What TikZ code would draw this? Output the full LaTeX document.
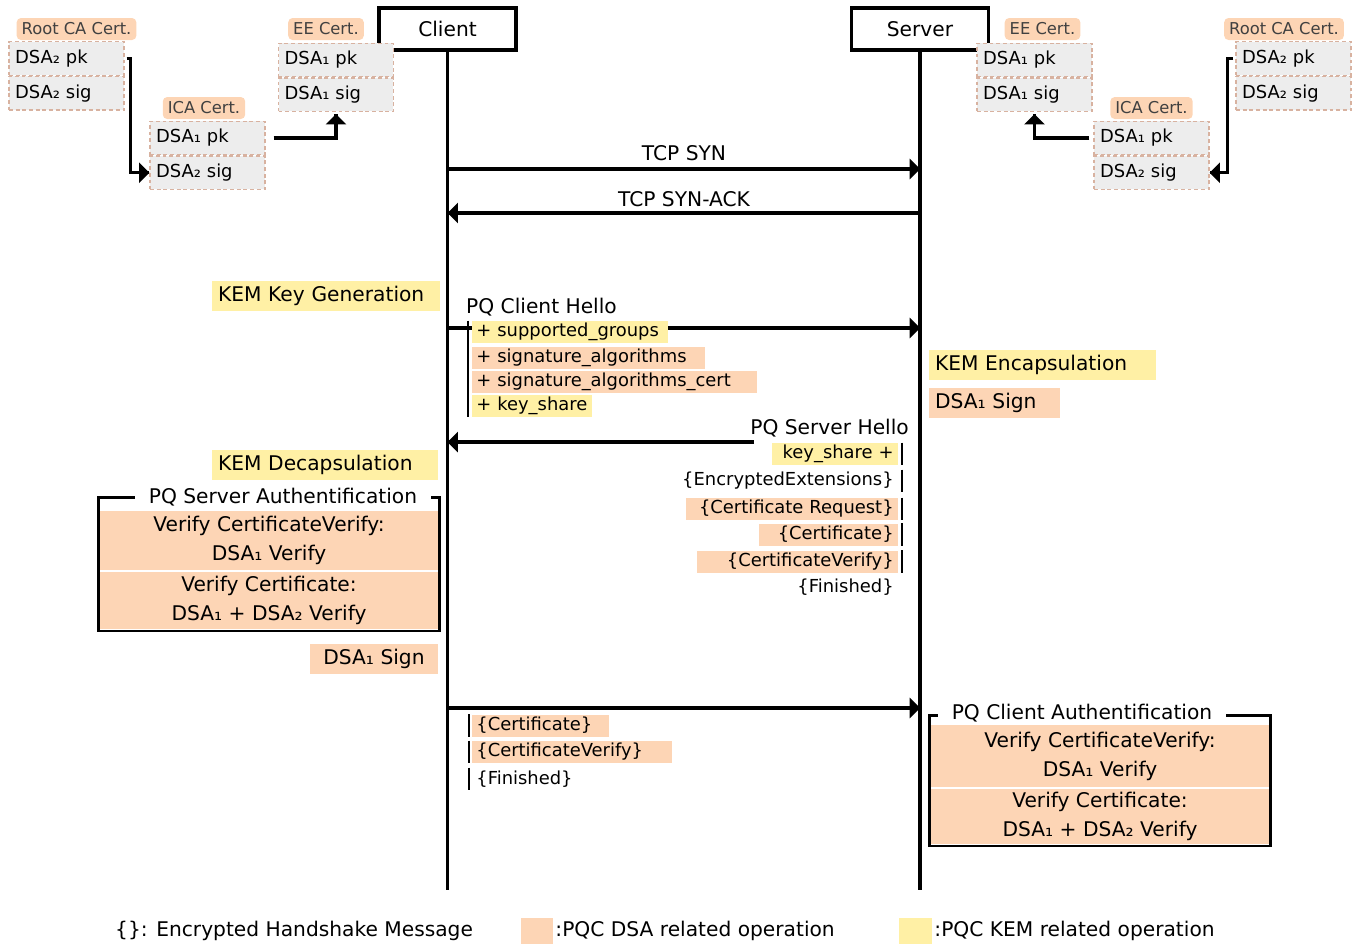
\documentclass[tikz,border=0pt]{standalone}
\usepackage{fontspec}
\setmainfont{DejaVu Sans}
\usetikzlibrary{arrows}
\usetikzlibrary{decorations.markings}
\usetikzlibrary{positioning}
\definecolor{dsa}{HTML}{FDD5B5}
\definecolor{kem}{HTML}{FFF0A5}
\definecolor{cellgray}{HTML}{EDEDED}
\definecolor{celledge}{HTML}{D8B2A0}
\tikzset{->/.style = {decoration={markings,
                                  mark=at position 1 with {\arrow[scale=0.75]{triangle 90}}},
                      postaction={decorate}}}
\tikzset{party/.style = {draw, line width=1.9pt, minimum width=2.74cm, minimum height=0.84cm}}
\tikzset{life/.style = {line width=1.8pt}}
\tikzset{bar/.style = {line width=1.6pt}}
\tikzset{op/.style = {inner xsep=0.12cm, inner ysep=0, minimum height=0.6cm, align=left}}
\tikzset{field/.style = {font=\fontsize{10.2}{12}\selectfont, inner xsep=0.08cm, inner ysep=0, minimum height=0.44cm}}
\tikzset{cell/.style = {draw=celledge, line width=0.7pt, dash pattern=on 2.2pt off 1.6pt, fill=cellgray,
                        font=\fontsize{10.2}{12}\selectfont, minimum height=0.67cm,
                        text width=2.06cm, inner xsep=0.12cm, align=left}}
\tikzset{certlabel/.style = {fill=dsa, rounded corners=2.5pt, text=black!75, font=\fontsize{9.3}{10}\selectfont,
                             minimum height=0.44cm, inner xsep=0.1cm, inner ysep=0}}
\tikzset{authframe/.style = {draw, line width=1.7pt, minimum width=6.84cm}}
\tikzset{authpart/.style = {fill=dsa, minimum width=6.76cm, inner ysep=0, align=center,
                            font=\fontsize{11.5}{16.5}\selectfont}}
\tikzset{authtitle/.style = {fill=white, inner xsep=0.28cm, inner ysep=1pt}}

\begin{document}
\begin{tikzpicture}[x=0.02cm, y=-0.02cm, font=\fontsize{11.5}{14}\selectfont]
  \useasboundingbox (0,0) rectangle (1361,947);

  % parties and lifelines
  \node[party] (client) at (447.5,29) {Client};
  \node[party] (server) at (920,29) {Server};
  \coordinate (client-end) at (447.5,890);
  \coordinate (server-end) at (920,890);
  \draw[life] (client.south) -- (client-end);
  \draw[life] (server.south) -- (server-end);

  % certificate chains, client side
  \node[cell] (c-rootpk) at (66.5,58.5) {DSA₂ pk};
  \node[cell, below=0pt of c-rootpk] (c-rootsig) {DSA₂ sig};
  \node[certlabel] (c-rootlbl) at (76.5,29) {Root CA Cert.};
  \node[cell] (c-icapk) at (207.5,138) {DSA₁ pk};
  \node[cell, below=0pt of c-icapk] (c-icasig) {DSA₂ sig};
  \node[certlabel] (c-icalbl) at (204,108) {ICA Cert.};
  \node[cell] (c-eepk) at (336,60) {DSA₁ pk};
  \node[cell, below=0pt of c-eepk] (c-eesig) {DSA₁ sig};
  \node[certlabel] (c-eelbl) at (326,29) {EE Cert.};
  \draw[life, ->] ([xshift=0.04cm]c-rootpk.east) -| ([xshift=-0.38cm]c-icasig.west) -- (c-icasig.west);
  \draw[life, ->] ([xshift=0.16cm]c-icapk.east) -| ([yshift=-0.04cm]c-eesig.south);

  % certificate chains, server side
  \node[cell] (s-eepk) at (1034.5,60) {DSA₁ pk};
  \node[cell, below=0pt of s-eepk] (s-eesig) {DSA₁ sig};
  \node[certlabel] (s-eelbl) at (1042.5,29) {EE Cert.};
  \node[cell] (s-icapk) at (1151.5,138) {DSA₁ pk};
  \node[cell, below=0pt of s-icapk] (s-icasig) {DSA₂ sig};
  \node[certlabel] (s-icalbl) at (1151.5,108) {ICA Cert.};
  \node[cell] (s-rootpk) at (1293.5,58.5) {DSA₂ pk};
  \node[cell, below=0pt of s-rootpk] (s-rootsig) {DSA₂ sig};
  \node[certlabel] (s-rootlbl) at (1284,29) {Root CA Cert.};
  \draw[life, ->] ([xshift=-0.04cm]s-rootpk.west) -| ([xshift=0.36cm]s-icasig.east) -- (s-icasig.east);
  \draw[life, ->] ([xshift=-0.08cm]s-icapk.west) -| ([yshift=-0.04cm]s-eesig.south);

  % TCP handshake
  \coordinate (syn-c) at (447.5,169);
  \coordinate (syn-s) at (920,169);
  \coordinate (ack-c) at (447.5,213);
  \coordinate (ack-s) at (920,213);
  \node (syn) at (684,153) {TCP SYN};
  \node (ack) at (684,199) {TCP SYN-ACK};
  \draw[life, ->] (syn-c) -- (syn-s);
  \draw[life, ->] (ack-s) -- (ack-c);

  % client hello
  \node[op, fill=kem, text width=4.32cm] (kemgen) at (326,296) {KEM Key Generation};
  \node[anchor=west] (chello) at (460,307) {PQ Client Hello};
  \coordinate (ch-c) at (447.5,328);
  \coordinate (ch-s) at (920,328);
  \draw[life, ->] (ch-c) -- (ch-s);
  \node[field, fill=kem, anchor=west, text width=3.76cm, align=left] (ch-groups) at (472,332) {+~supported\_groups};
  \node[field, fill=dsa, anchor=west, text width=4.5cm, align=left] (ch-sigalg) at (472,357.5) {+~signature\_algorithms};
  \node[field, fill=dsa, anchor=west, text width=5.54cm, align=left] (ch-sigcert) at (472,381.5) {+~signature\_algorithms\_cert};
  \node[field, fill=kem, anchor=west, text width=2.24cm, align=left] (ch-key) at (472,405.5) {+~key\_share};
  \draw[bar] ([xshift=-0.08cm]ch-groups.north west) -- ([xshift=-0.08cm]ch-key.south west);

  % server side operations
  \node[op, fill=kem, text width=4.3cm] (kemenc) at (1042.5,365) {KEM Encapsulation};
  \node[op, fill=dsa, text width=2.38cm] (s-sign) at (994.5,403) {DSA₁ Sign};

  % server hello
  \node[anchor=east] (shello) at (915,428) {PQ Server Hello};
  \coordinate (sh-s) at (754,442);
  \coordinate (sh-c) at (447.5,442);
  \draw[life, ->] (sh-s) -- (sh-c);
  \node[field, fill=kem, anchor=east, text width=2.36cm, align=right] (sh-key) at (898,454) {key\_share~+};
  \node[field, anchor=east, align=right] (sh-ext) at (898,481) {\{EncryptedExtensions\}};
  \node[field, fill=dsa, anchor=east, text width=4.08cm, align=right] (sh-req) at (898,509) {\{Certificate~Request\}};
  \node[field, fill=dsa, anchor=east, text width=2.62cm, align=right] (sh-cert) at (898,534.5) {\{Certificate\}};
  \node[field, fill=dsa, anchor=east, text width=3.86cm, align=right] (sh-cv) at (898,561.5) {\{CertificateVerify\}};
  \node[field, anchor=east, align=right] (sh-fin) at (898,587) {\{Finished\}};
  \foreach \n in {sh-key, sh-ext, sh-req, sh-cert, sh-cv}
    \draw[bar] ([xshift=0.08cm]\n.north east) -- ([xshift=0.08cm]\n.south east);

  % server authentication at the client
  \node[op, fill=kem, text width=4.28cm] (kemdec) at (325,465) {KEM Decapsulation};
  \node[authpart, minimum height=1.18cm] (sauth-cv) at (269,540.5) {Verify CertificateVerify:\\DSA₁ Verify};
  \node[authpart, minimum height=1.14cm] (sauth-c) at (269,600.5) {Verify Certificate:\\DSA₁ + DSA₂ Verify};
  \node[authframe, minimum height=2.68cm] (sauth) at (269,564) {};
  \node[authtitle] (sauth-t) at (283,497) {PQ Server Authentification};
  \node[op, fill=dsa, align=center, minimum width=2.56cm] (c-sign) at (374,658.5) {DSA₁ Sign};

  % client finished
  \coordinate (fin-c) at (447.5,708);
  \coordinate (fin-s) at (920,708);
  \draw[life, ->] (fin-c) -- (fin-s);
  \node[field, fill=dsa, anchor=west, text width=2.58cm, align=left] (cf-cert) at (472,725.5) {\{Certificate\}};
  \node[field, fill=dsa, anchor=west, text width=3.84cm, align=left] (cf-cv) at (472,752) {\{CertificateVerify\}};
  \node[field, anchor=west, align=left] (cf-fin) at (472,779) {\{Finished\}};
  \foreach \n in {cf-cert, cf-cv, cf-fin}
    \draw[bar] ([xshift=-0.06cm]\n.north west) -- ([xshift=-0.06cm]\n.south west);

  % client authentication at the server
  \node[authpart, minimum height=1.24cm] (cauth-cv) at (1100,756) {Verify CertificateVerify:\\DSA₁ Verify};
  \node[authpart, minimum height=1.1cm] (cauth-c) at (1100,816.5) {Verify Certificate:\\DSA₁ + DSA₂ Verify};
  \node[authframe, minimum height=2.62cm] (cauth) at (1100,780.5) {};
  \node[authtitle] (cauth-t) at (1082,713) {PQ Client Authentification};

  % legend
  \node[anchor=west] (lg-enc) at (109,931) {\{\}: Encrypted Handshake Message};
  \node[fill=dsa, minimum width=0.64cm, minimum height=0.52cm, inner sep=0] (lg-dsa) at (537,931) {};
  \node[anchor=west, inner xsep=1pt] (lg-dsa-t) at (lg-dsa.east) {:PQC DSA related operation};
  \node[fill=kem, minimum width=0.66cm, minimum height=0.52cm, inner sep=0] (lg-kem) at (915.5,931) {};
  \node[anchor=west, inner xsep=1pt] (lg-kem-t) at (lg-kem.east) {:PQC KEM related operation};
\end{tikzpicture}
\end{document}
